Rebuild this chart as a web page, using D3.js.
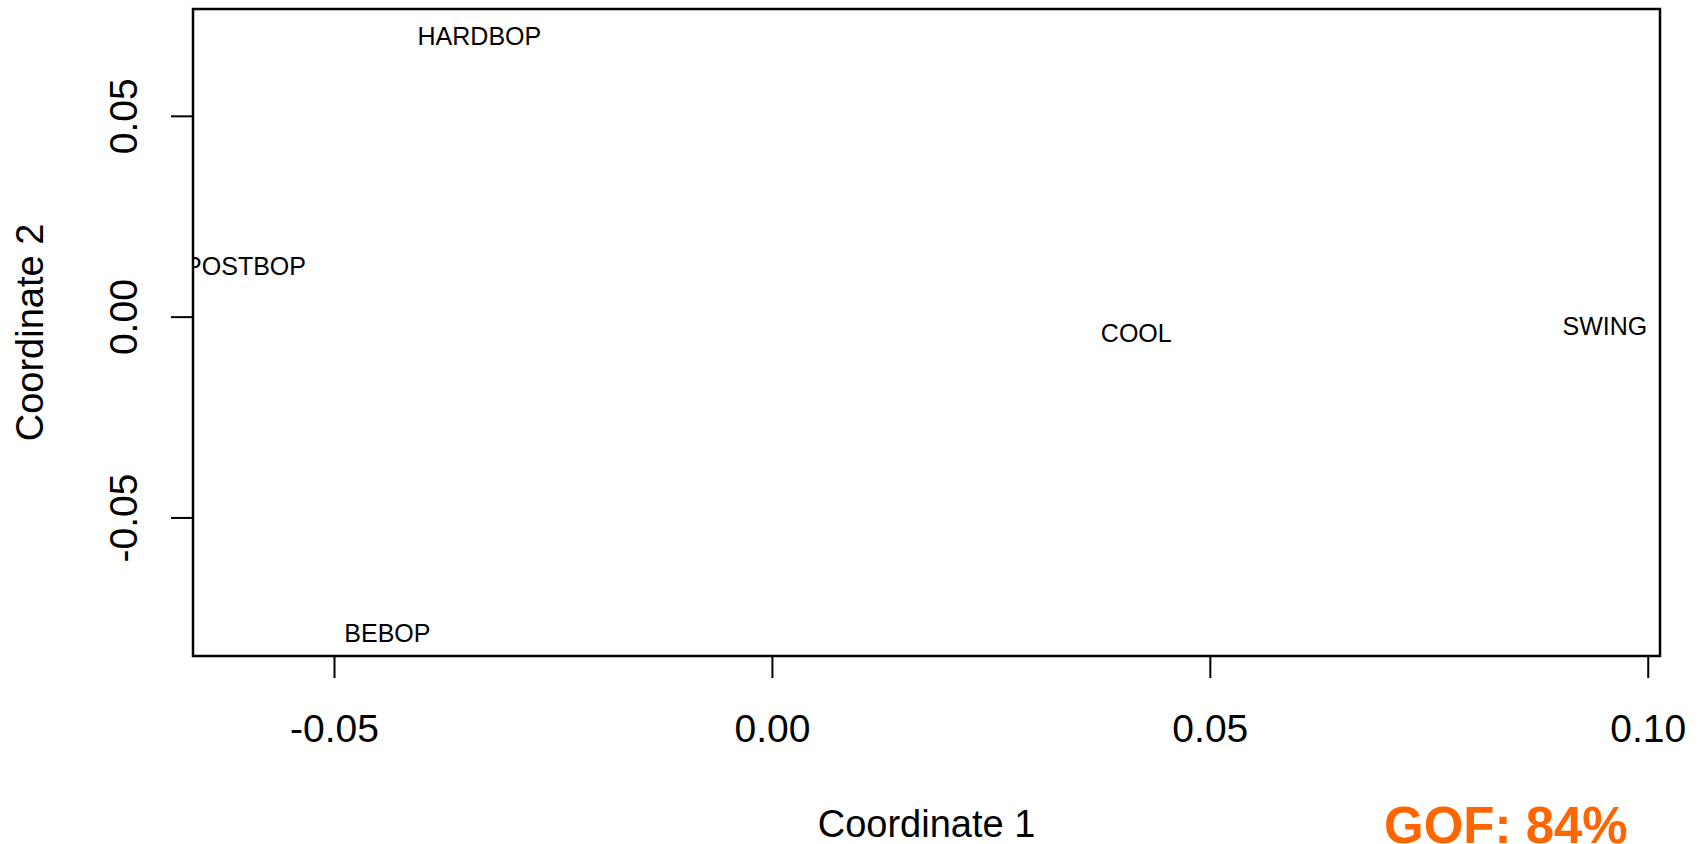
<!DOCTYPE html>
<html>
<head>
<meta charset="utf-8">
<script src="https://cdn.jsdelivr.net/npm/d3@7/dist/d3.min.js"></script>
<style>
  html, body { margin: 0; padding: 0; background: #fff; }
  svg { display: block; }
  text { font-family: "Liberation Sans", Arial, sans-serif; }
</style>
</head>
<body>
<svg id="chart" width="1699" height="844"></svg>
<script>
const labels = ["HARDBOP", "POSTBOP", "COOL", "SWING", "BEBOP"];
const coord1 = [-0.0334, -0.0601, 0.0416, 0.0951, -0.0439];
const coord2 = [0.0698, 0.0126, -0.0041, -0.0024, -0.0788];
const xTicks = [-0.05, 0.00, 0.05, 0.10];
const yTicks = [-0.05, 0.00, 0.05];
const xTitle = "Coordinate 1";
const yTitle = "Coordinate 2";
const gofText = "GOF: 84%";

(function () {
const svg = d3.select("#chart");
const pL = 193, pR = 1660, pT = 9, pB = 656;
const fmt = v => v.toFixed(2);

const x = d3.scaleLinear().domain([-0.0661, 0.1014]).range([pL, pR]);
const y = d3.scaleLinear().domain([-0.0845, 0.0766]).range([pB, pT]);

svg.append("defs").append("clipPath").attr("id", "plotclip")
  .append("rect").attr("x", pL).attr("y", pT)
  .attr("width", pR - pL).attr("height", pB - pT);

// x axis
const gx = svg.append("g").attr("transform", `translate(0,${pB})`)
  .call(d3.axisBottom(x).tickValues(xTicks).tickFormat(fmt).tickSize(22).tickSizeOuter(0));
gx.select(".domain").remove();
gx.selectAll(".tick line").attr("stroke", "#000").attr("stroke-width", 2);
gx.selectAll(".tick text")
  .attr("y", 86).attr("dy", null)
  .attr("font-size", 39).attr("fill", "#000")
  .attr("font-family", "Liberation Sans, Arial, sans-serif");

// y axis
const gy = svg.append("g").attr("transform", `translate(${pL},0)`)
  .call(d3.axisLeft(y).tickValues(yTicks).tickFormat(fmt).tickSize(22).tickSizeOuter(0));
gy.select(".domain").remove();
gy.selectAll(".tick line").attr("stroke", "#000").attr("stroke-width", 2);
gy.selectAll(".tick text")
  .attr("x", null).attr("dy", null)
  .attr("text-anchor", "middle")
  .attr("transform", "translate(-56,0) rotate(-90)")
  .attr("font-size", 39).attr("fill", "#000")
  .attr("font-family", "Liberation Sans, Arial, sans-serif");

// box
svg.append("rect").attr("x", pL).attr("y", pT)
  .attr("width", pR - pL).attr("height", pB - pT)
  .attr("fill", "none").attr("stroke", "#000").attr("stroke-width", 2.5);

// point labels
svg.append("g").attr("clip-path", "url(#plotclip)")
  .selectAll("text").data(labels).join("text")
  .attr("x", (d, i) => x(coord1[i]))
  .attr("y", (d, i) => y(coord2[i]))
  .attr("dy", "0.36em")
  .attr("text-anchor", "middle")
  .attr("font-size", 25)
  .attr("fill", "#000")
  .text(d => d);

// axis titles
svg.append("text").attr("x", (pL + pR) / 2).attr("y", 837)
  .attr("text-anchor", "middle").attr("font-size", 38).attr("fill", "#000")
  .text(xTitle);
svg.append("text").attr("transform", `translate(43,${(pT + pB) / 2}) rotate(-90)`)
  .attr("text-anchor", "middle").attr("font-size", 38).attr("fill", "#000")
  .text(yTitle);

// GOF annotation
svg.append("text").attr("x", 1384).attr("y", 843)
  .attr("font-size", 51).attr("font-weight", "bold").attr("fill", "#FF6600")
  .text(gofText);
})();
</script>
</body>
</html>
